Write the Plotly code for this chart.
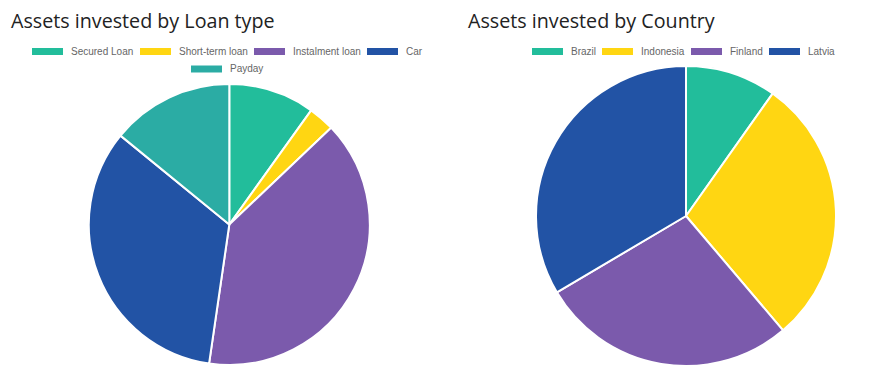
import plotly.graph_objects as go

W, H = 875, 372
PAGE_OFFSET = 8  # default page margin around the plot div

loan_labels = ["Secured Loan", "Short-term loan", "Instalment loan", "Car", "Payday"]
loan_values = [9.9, 3.0, 39.4, 33.6, 14.1]
loan_colors = ["#22BD9B", "#FFD612", "#7B5AAC", "#2253A5", "#2BACA4"]

country_labels = ["Brazil", "Indonesia", "Finland", "Latvia"]
country_values = [9.8, 29.0, 27.7, 33.5]
country_colors = ["#22BD9B", "#FFD612", "#7B5AAC", "#2253A5"]

titles = ["Assets invested by Loan type", "Assets invested by Country"]


def px_x(x):
    return (x - PAGE_OFFSET) / W


def px_y(y):
    return 1 - (y - PAGE_OFFSET) / H


fig = go.Figure()

fig.add_trace(go.Pie(
    labels=loan_labels, values=loan_values, sort=False, direction="clockwise",
    rotation=0, marker=dict(colors=loan_colors, line=dict(color="white", width=2)),
    textinfo="none", hoverinfo="label+value", showlegend=False,
    domain=dict(x=[px_x(88.8), px_x(369.8)], y=[px_y(365), px_y(84)]),
))
fig.add_trace(go.Pie(
    labels=country_labels, values=country_values, sort=False, direction="clockwise",
    rotation=0, marker=dict(colors=country_colors, line=dict(color="white", width=2)),
    textinfo="none", hoverinfo="label+value", showlegend=False,
    domain=dict(x=[px_x(536), px_x(836)], y=[px_y(366), px_y(66)]),
))

shapes = []
annotations = []

# legend layout (pixel positions of each box's left edge and row centre)
loan_legend_pos = [(32, 51.5), (140, 51.5), (254, 51.5), (367, 51.5), (191, 69)]
country_legend_pos = [(532, 51.5), (602, 51.5), (691, 51.5), (769, 51.5)]
BOX_W, BOX_H = 31, 7


def add_legend(labels, colors, positions):
    for lab, col, (x, y) in zip(labels, colors, positions):
        shapes.append(dict(
            type="rect", xref="paper", yref="paper",
            x0=px_x(x), x1=px_x(x + BOX_W),
            y0=px_y(y + BOX_H / 2), y1=px_y(y - BOX_H / 2),
            fillcolor=col, line=dict(width=0), layer="above",
        ))
        annotations.append(dict(
            text=lab, xref="paper", yref="paper",
            x=px_x(x + BOX_W + 6), y=px_y(y), xanchor="left", yanchor="middle",
            showarrow=False, font=dict(family="Liberation Sans, Arial", size=10, color="#666666"),
        ))


add_legend(loan_labels, loan_colors, loan_legend_pos)
add_legend(country_labels, country_colors, country_legend_pos)

for t, x in zip(titles, [10, 467]):
    annotations.append(dict(
        text=t, xref="paper", yref="paper", x=px_x(x - 1), y=px_y(20.5),
        xanchor="left", yanchor="middle", showarrow=False,
        font=dict(family="Open Sans", size=19.7, color="#222222"),
    ))

fig.update_layout(
    width=W, height=H, margin=dict(l=0, r=0, t=0, b=0),
    paper_bgcolor="white", plot_bgcolor="white",
    shapes=shapes, annotations=annotations,
)

fig.write_html("out.html")
